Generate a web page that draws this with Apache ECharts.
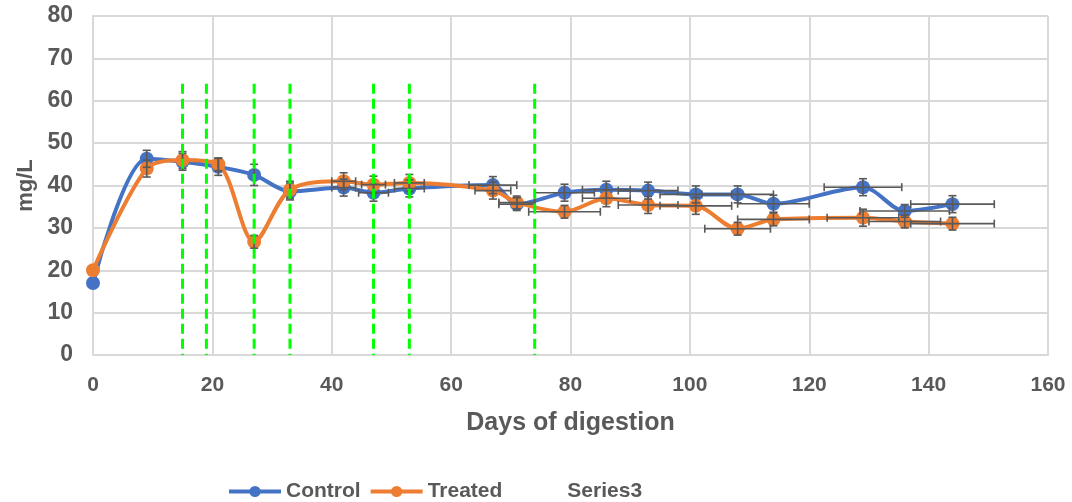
<!DOCTYPE html>
<html>
<head>
    <meta charset="utf-8">
    <title>ECharts</title>
    <script src="https://cdn.jsdelivr.net/npm/echarts@6/dist/echarts.min.js"></script>
    <style>
        html, body { margin: 0; padding: 0; background: #fff; }
    </style>
</head>
<body>
    <div id="main" style="width: 1072px;height:502px;"></div>
    <script type="text/javascript">
        // days of each sample
        var days = [0, 9, 15, 21, 27, 33, 42, 47, 53, 67, 71, 79, 86, 93, 101, 108, 114, 129, 136, 144];
        var control = [17, 46.3, 45.6, 44.4, 42.5, 38.6, 39.5, 38.3, 39.3, 40.1, 35.6, 38.3, 39, 38.8, 37.9, 37.9, 35.7, 39.6, 34, 35.6];
        var treated = [20, 44, 46, 45, 26.7, 39, 41, 40.2, 40.6, 38.8, 36, 33.8, 37, 35.4, 35.2, 29.8, 32, 32.4, 31.5, 31];
        // error bars (y = mg/L, x = days)
        var controlYErr = [0, 2, 2, 2, 2.5, 2, 2, 2, 2, 2, 1.5, 2, 2, 2, 2, 2, 2, 2, 1.5, 2];
        var controlXErr = [0, 0, 0, 0, 0, 0, 2, 2.5, 2.5, 4, 3, 5, 4, 5, 6, 6, 6, 6.5, 7.5, 7];
        var treatedYErr = [0, 2, 2, 1.5, 1.5, 2, 2, 2, 2, 2, 1.5, 1.5, 2, 2, 2, 1.5, 1.5, 2, 1.5, 1.5];
        var treatedXErr = [0, 0, 0, 0, 0, 0, 2, 2, 2.5, 3, 3, 6, 4, 5, 6, 5.5, 6, 6, 6, 7];
        // Series3: vertical markers
        var markDays = [15, 19, 27, 33, 47, 53, 74];
        var markTop = 64;

        var textColor = '#595959';
        var fontFam = '"Liberation Sans", Arial, sans-serif';

        function pairs(xs, ys) {
            var out = [];
            for (var i = 0; i < xs.length; i++) out.push([xs[i], ys[i]]);
            return out;
        }
        function errData(xs, ys, ex, ey) {
            var out = [];
            for (var i = 0; i < xs.length; i++) out.push([xs[i], ys[i], ex[i], ey[i]]);
            return out;
        }

        function errRender(params, api) {
            var x = api.value(0), y = api.value(1), ex = api.value(2), ey = api.value(3);
            var cap = 4;
            var st = { stroke: '#595959', lineWidth: 1.6 };
            var ch = [];
            if (ey > 0) {
                var t = api.coord([x, y + ey]), b = api.coord([x, y - ey]);
                ch.push({ type: 'line', shape: { x1: t[0], y1: t[1], x2: b[0], y2: b[1] }, style: st });
                ch.push({ type: 'line', shape: { x1: t[0] - cap, y1: t[1], x2: t[0] + cap, y2: t[1] }, style: st });
                ch.push({ type: 'line', shape: { x1: b[0] - cap, y1: b[1], x2: b[0] + cap, y2: b[1] }, style: st });
            }
            if (ex > 0) {
                var l = api.coord([x - ex, y]), r = api.coord([x + ex, y]);
                ch.push({ type: 'line', shape: { x1: l[0], y1: l[1], x2: r[0], y2: r[1] }, style: st });
                ch.push({ type: 'line', shape: { x1: l[0], y1: l[1] - cap, x2: l[0], y2: l[1] + cap }, style: st });
                ch.push({ type: 'line', shape: { x1: r[0], y1: r[1] - cap, x2: r[0], y2: r[1] + cap }, style: st });
            }
            return { type: 'group', children: ch };
        }

        function markRender(params, api) {
            var x = api.value(0);
            var t = api.coord([x, api.value(1)]), b = api.coord([x, 0]);
            return {
                type: 'line',
                shape: { x1: t[0], y1: t[1], x2: b[0], y2: b[1] },
                style: { stroke: '#00ff00', lineWidth: 3, lineDash: [10, 5] }
            };
        }

        var option = {
            animation: false,
            backgroundColor: '#fff',
            grid: { left: 93, right: 24, top: 16, bottom: 147 },
            legend: {
                top: 476,
                left: 222,
                itemWidth: 52,
                itemHeight: 14,
                itemGap: 8,
                lineStyle: { width: 4 },
                textStyle: { color: textColor, fontSize: 21, fontWeight: 'bold', fontFamily: fontFam },
                data: [
                    { name: 'Control' },
                    { name: 'Treated' },
                    { name: 'Series3', itemStyle: { opacity: 0 }, lineStyle: { opacity: 0 } }
                ]
            },
            xAxis: {
                type: 'value',
                min: 0, max: 160, interval: 20,
                name: 'Days of digestion',
                nameLocation: 'middle',
                nameGap: 56,
                nameTextStyle: { color: textColor, fontSize: 25, fontWeight: 'bold', fontFamily: fontFam },
                axisLine: { show: true, lineStyle: { color: '#d9d9d9', width: 2 } },
                axisTick: { show: false },
                axisLabel: { color: textColor, fontSize: 21, fontWeight: 'bold', fontFamily: fontFam, margin: 20 },
                splitLine: { show: true, lineStyle: { color: '#d9d9d9', width: 2 } }
            },
            yAxis: {
                type: 'value',
                min: 0, max: 80, interval: 10,
                name: 'mg/L',
                nameLocation: 'middle',
                nameGap: 51,
                nameTextStyle: { color: textColor, fontSize: 22, fontWeight: 'bold', fontFamily: fontFam },
                axisLine: { show: true, lineStyle: { color: '#d9d9d9', width: 2 } },
                axisTick: { show: false },
                axisLabel: { color: textColor, fontSize: 23, fontWeight: 'bold', fontFamily: fontFam, margin: 20 },
                splitLine: { show: true, lineStyle: { color: '#d9d9d9', width: 2 } }
            },
            series: [
                {
                    name: 'Control',
                    type: 'line',
                    smooth: 0.3,
                    symbol: 'circle',
                    symbolSize: 14,
                    color: '#4472c4',
                    lineStyle: { width: 4, color: '#4472c4' },
                    itemStyle: { color: '#4472c4' },
                    z: 2,
                    data: pairs(days, control)
                },
                {
                    name: 'Treated',
                    type: 'line',
                    smooth: 0.3,
                    symbol: 'circle',
                    symbolSize: 14,
                    color: '#ed7d31',
                    lineStyle: { width: 4, color: '#ed7d31' },
                    itemStyle: { color: '#ed7d31' },
                    z: 3,
                    data: pairs(days, treated)
                },
                {
                    name: 'ControlErr',
                    type: 'custom',
                    renderItem: errRender,
                    z: 4,
                    data: errData(days, control, controlXErr, controlYErr)
                },
                {
                    name: 'TreatedErr',
                    type: 'custom',
                    renderItem: errRender,
                    z: 4,
                    data: errData(days, treated, treatedXErr, treatedYErr)
                },
                {
                    name: 'Series3',
                    type: 'custom',
                    renderItem: markRender,
                    z: 5,
                    data: markDays.map(function (d) { return [d, markTop]; })
                }
            ]
        };

        var myChart = echarts.init(document.getElementById('main'));
        myChart.setOption(option);
    </script>
</body>
</html>
